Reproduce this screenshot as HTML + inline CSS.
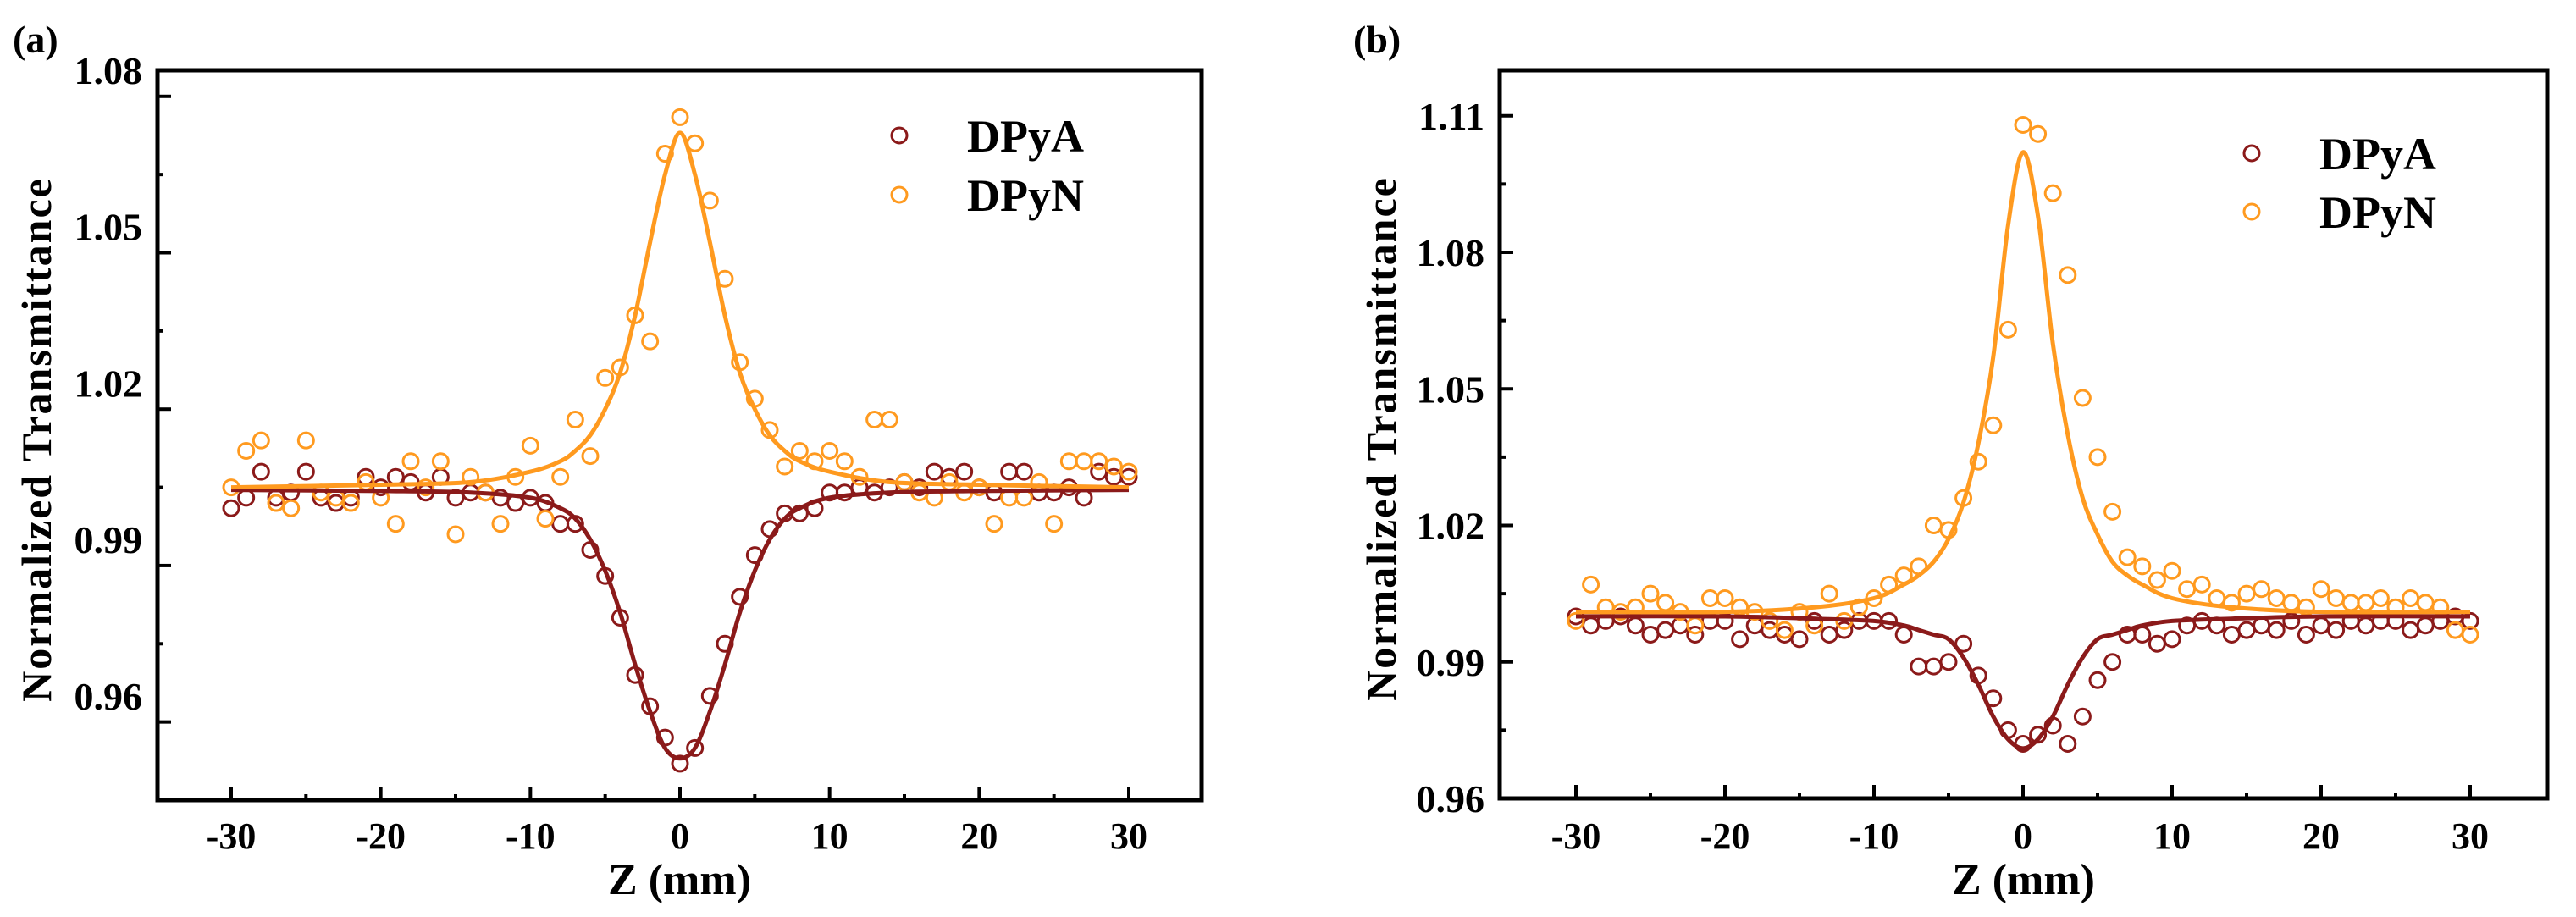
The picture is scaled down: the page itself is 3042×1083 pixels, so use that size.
<!DOCTYPE html>
<html><head><meta charset="utf-8"><style>
html,body{margin:0;padding:0;background:#fff;}
svg{display:block;font-family:"Liberation Serif",serif;font-weight:bold;}
</style></head><body>
<svg id="chart" width="3042" height="1083" viewBox="0 0 3042 1083" xmlns="http://www.w3.org/2000/svg"></svg>
<script>
const zAxis = [-30,-29,-28,-27,-26,-25,-24,-23,-22,-21,-20,-19,-18,-17,-16,-15,-14,-13,-12,-11,-10,-9,-8,-7,-6,-5,-4,-3,-2,-1,0,1,2,3,4,5,6,7,8,9,10,11,12,13,14,15,16,17,18,19,20,21,22,23,24,25,26,27,28,29,30];
const fitZ = [-30,-20,-14,-10,-8,-7,-6,-5,-4,-3,-2,-1,0,1,2,3,4,5,6,7,8,10,14,20,30];

const aDPyA = [0.996,0.998,1.003,0.998,0.999,1.003,0.998,0.997,0.998,1.002,1.000,1.002,1.001,0.999,1.002,0.998,0.999,0.999,0.998,0.997,0.998,0.997,0.993,0.993,0.988,0.983,0.975,0.964,0.958,0.952,0.947,0.950,0.960,0.970,0.979,0.987,0.992,0.995,0.995,0.996,0.999,0.999,1.000,0.999,1.000,1.001,1.000,1.003,1.002,1.003,1.000,0.999,1.003,1.003,0.999,0.999,1.000,0.998,1.003,1.002,1.002];
const aDPyN = [1.000,1.007,1.009,0.997,0.996,1.009,0.999,0.998,0.997,1.001,0.998,0.993,1.005,1.000,1.005,0.991,1.002,0.999,0.993,1.002,1.008,0.994,1.002,1.013,1.006,1.021,1.023,1.033,1.028,1.064,1.071,1.066,1.055,1.040,1.024,1.017,1.011,1.004,1.007,1.005,1.007,1.005,1.002,1.013,1.013,1.001,0.999,0.998,1.001,0.999,1.000,0.993,0.998,0.998,1.001,0.993,1.005,1.005,1.005,1.004,1.003];
const aFitDPyA = [0.9995,0.9993,0.999,0.998,0.996,0.994,0.990,0.984,0.976,0.966,0.957,0.950,0.948,0.950,0.957,0.966,0.976,0.984,0.990,0.994,0.996,0.998,0.999,0.9993,0.9995];
const aFitDPyN = [1.000,1.0005,1.001,1.003,1.005,1.007,1.010,1.015,1.022,1.033,1.047,1.060,1.068,1.060,1.047,1.033,1.022,1.015,1.010,1.007,1.005,1.003,1.001,1.0005,1.000];

const bDPyA = [1.000,0.998,0.999,1.000,0.998,0.996,0.997,0.998,0.996,0.999,0.999,0.995,0.998,0.997,0.996,0.995,0.999,0.996,0.997,0.999,0.999,0.999,0.996,0.989,0.989,0.990,0.994,0.987,0.982,0.975,0.972,0.974,0.976,0.972,0.978,0.986,0.990,0.996,0.996,0.994,0.995,0.998,0.999,0.998,0.996,0.997,0.998,0.997,0.999,0.996,0.998,0.997,0.999,0.998,0.999,0.999,0.997,0.998,0.999,1.000,0.999];
const bDPyN = [0.999,1.007,1.002,1.001,1.002,1.005,1.003,1.001,0.998,1.004,1.004,1.002,1.001,0.999,0.997,1.001,0.998,1.005,0.999,1.002,1.004,1.007,1.009,1.011,1.020,1.019,1.026,1.034,1.042,1.063,1.108,1.106,1.093,1.075,1.048,1.035,1.023,1.013,1.011,1.008,1.010,1.006,1.007,1.004,1.003,1.005,1.006,1.004,1.003,1.002,1.006,1.004,1.003,1.003,1.004,1.002,1.004,1.003,1.002,0.997,0.996];
const bFitDPyA = [1.000,1.000,0.9995,0.999,0.998,0.997,0.996,0.995,0.991,0.985,0.978,0.973,0.971,0.973,0.978,0.985,0.991,0.995,0.996,0.997,0.998,0.999,0.9995,1.000,1.000];
const bFitDPyN = [1.001,1.001,1.002,1.004,1.007,1.009,1.012,1.017,1.025,1.038,1.057,1.086,1.102,1.088,1.060,1.040,1.026,1.018,1.012,1.009,1.007,1.004,1.002,1.001,1.001];

const xTicks = [-30,-20,-10,0,10,20,30];
const aYTicks = [0.96,0.99,1.02,1.05,1.08];
const bYTicks = [0.96,0.99,1.02,1.05,1.08,1.11];

const NS = "http://www.w3.org/2000/svg";
const svg = document.getElementById('chart');
const RED = "#8b1a1a", ORG = "#ff9a1f";
function mk(tag, attrs, parent){
  const e = document.createElementNS(NS, tag);
  for (const k in attrs) e.setAttribute(k, attrs[k]);
  (parent||svg).appendChild(e);
  return e;
}
function panel(P){
  const g = mk('g', {});
  
  
  const xs = z => P.x30 + (z + 30) / 60 * (P.xp30 - P.x30);
  const ys = v => P.bottom - (v - P.ymin) / (P.ymax - P.ymin) * (P.bottom - P.top);
  // ticks
  for (let z = -30; z <= 30; z += 5) {
    const major = z % 10 === 0;
    const t = mk('line', {x1: xs(z), x2: xs(z), y1: P.bottom, y2: P.bottom - (major ? 16 : 7), stroke: '#000', 'stroke-width': 4}, g);
    
    
  }
  xTicks.forEach(z => {
    const t = mk('text', {x: xs(z), y: 1002, 'text-anchor': 'middle', 'font-size': 44}, g);
    t.textContent = z;
    
    
  });
  for (let v = P.ymin; v <= P.ymax + 1e-9; v += 0.015) {
    const k = Math.round((v - 0.96) / 0.015);
    if (v < P.ymin - 1e-9) continue;
    const major = Math.abs(k % 2) === 0;
    const t = mk('line', {x1: P.left, x2: P.left + (major ? 16 : 7), y1: ys(v), y2: ys(v), stroke: '#000', 'stroke-width': 4}, g);
    
    
  }
  P.yTicks.forEach(v => {
    const t = mk('text', {x: P.left - 18, y: ys(v) + 16, 'text-anchor': 'end', 'font-size': 46}, g);
    t.textContent = v.toFixed(2);
    
    
  });
  // scatter
  [[P.dA, RED, 'dpya'], [P.dN, ORG, 'dpyn']].forEach(([arr, col, nm]) => {
    const sg = mk('g', {}, g);
    
    
    arr.forEach((v, i) => {
      const c = mk('circle', {cx: xs(zAxis[i]), cy: ys(v), r: 9, fill: 'none', stroke: col, 'stroke-width': 3}, sg);
      
      
    });
  });
  // fits
  [[P.fA, RED, 'dpya'], [P.fN, ORG, 'dpyn']].forEach(([arr, col, nm]) => {
    const pts = arr.map((v, i) => [xs(fitZ[i]), ys(v)]);
    let d = 'M' + pts[0][0] + ',' + pts[0][1];
    for (let i = 0; i < pts.length - 1; i++) {
      const p0 = pts[Math.max(0, i - 1)], p1 = pts[i], p2 = pts[i + 1], p3 = pts[Math.min(pts.length - 1, i + 2)];
      const c1 = [p1[0] + (p2[0] - p0[0]) / 6, p1[1] + (p2[1] - p0[1]) / 6];
      const c2 = [p2[0] - (p3[0] - p1[0]) / 6, p2[1] - (p3[1] - p1[1]) / 6];
      d += ' C' + c1 + ' ' + c2 + ' ' + p2;
    }
    const l = mk('path', {d: d, fill: 'none', stroke: col, 'stroke-width': 5}, g);
    
    
  });
  // frame
  const f = mk('rect', {x: P.left, y: P.top, width: P.right - P.left, height: P.bottom - P.top, fill: 'none', stroke: '#000', 'stroke-width': 5}, g);
  
  
  // legend
  [['DPyA', RED, P.legY[0]], ['DPyN', ORG, P.legY[1]]].forEach(([txt, col, y]) => {
    const lg = mk('g', {}, g);
    
    
    mk('circle', {cx: P.legX, cy: y, r: 9, fill: 'none', stroke: col, 'stroke-width': 3}, lg);
    const t = mk('text', {x: P.legX + 80, y: y + 19, 'font-size': 54}, lg);
    t.textContent = txt;
  });
  const xt = mk('text', {x: (P.left + P.right) / 2, y: 1056, 'text-anchor': 'middle', 'font-size': 52}, g);
  xt.textContent = 'Z (mm)';
  
  
  const cy = (P.top + P.bottom) / 2 + 5;
  const yt = mk('text', {x: P.ytx, y: cy, 'text-anchor': 'middle', 'font-size': 50, transform: 'rotate(-90 ' + P.ytx + ' ' + cy + ')', 'letter-spacing': 2}, g);
  yt.textContent = 'Normalized  Transmittance';
  
  
  const pl = mk('text', {x: P.labX, y: 62, 'font-size': 46}, g);
  pl.textContent = P.label;
  
  
}
panel({id: 'a', label: '(a)', labX: 15, left: 186, right: 1419, top: 83, bottom: 945, x30: 273, xp30: 1333, ymin: 0.94, ymax: 1.08,
  yTicks: aYTicks, dA: aDPyA, dN: aDPyN, fA: aFitDPyA, fN: aFitDPyN, legX: 1062, legY: [160, 230], ytx: 60});
panel({id: 'b', label: '(b)', labX: 1598, left: 1771, right: 3008, top: 83, bottom: 943, x30: 1861, xp30: 2917, ymin: 0.96, ymax: 1.12,
  yTicks: bYTicks, dA: bDPyA, dN: bDPyN, fA: bFitDPyA, fN: bFitDPyN, legX: 2659, legY: [181, 250], ytx: 1648});
</script>
</body></html>
